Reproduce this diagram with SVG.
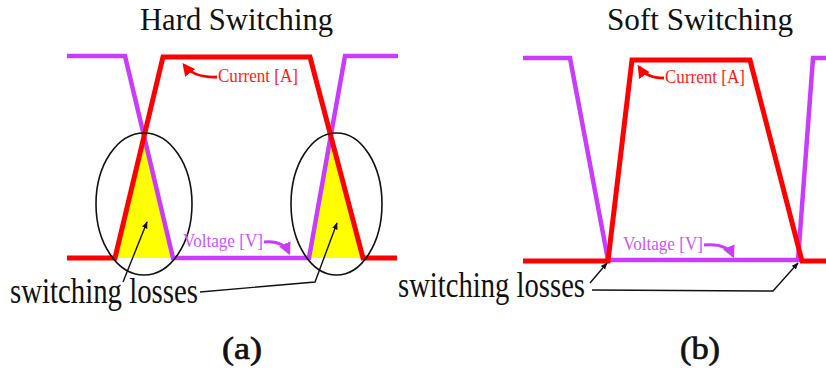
<svg xmlns="http://www.w3.org/2000/svg" width="826" height="370" viewBox="0 0 826 370">
<style>
text{font-family:"Liberation Serif","Times New Roman",Times,serif}
.red{fill:none;stroke:#ff0000;stroke-width:5;stroke-linejoin:miter}
.pur{fill:none;stroke:#c93cff;stroke-width:4.5;stroke-linejoin:miter}
.ell{fill:none;stroke:#111;stroke-width:1.6}
.blk{fill:none;stroke:#111;stroke-width:1.4}
.ra{fill:none;stroke:#ff0000;stroke-width:2.8}
.pa{fill:none;stroke:#c93cff;stroke-width:2.8}
.yel{fill:#ffff00}
.lab{stroke:#111;stroke-width:0.7}
</style>
<defs>
<marker id="mr" viewBox="0 0 10 10" refX="8" refY="5" markerWidth="4.5" markerHeight="4.5" orient="auto" markerUnits="strokeWidth"><path d="M0,0 L10,5 L0,10 z" fill="#ff0000"/></marker>
<marker id="mp" viewBox="0 0 10 10" refX="8" refY="5" markerWidth="4.5" markerHeight="4.5" orient="auto" markerUnits="strokeWidth"><path d="M0,0 L10,5 L0,10 z" fill="#c93cff"/></marker>
<marker id="mb" viewBox="0 0 10 10" refX="9" refY="5" markerWidth="5" markerHeight="5" orient="auto" markerUnits="strokeWidth"><path d="M0,1 L10,5 L0,9 z" fill="#111"/></marker>
</defs>
<rect width="826" height="370" fill="#fff"/>

<g id="panel-a">
  <text font-family="Liberation Serif, serif" x="140" y="30" font-size="30.5" fill="#111" textLength="193" lengthAdjust="spacingAndGlyphs">Hard Switching</text>
  <g id="loss-a">
    <polygon class="yel" points="144,137 116,258 172,258"/>
    <polygon class="yel" points="330,135 310,258 362,258"/>
  </g>
  <g id="voltage-a"><polyline class="pur" points="67,56 125,56 173,258 309,258 345,56 398,56"/></g>
  <g id="current-a"><polyline class="red" points="67,258 115,258 163,57 310,57 363,258 397,258"/></g>
  <g id="ellipses-a">
    <ellipse class="ell" cx="144" cy="204" rx="48" ry="71"/>
    <ellipse class="ell" cx="336.5" cy="204" rx="45.5" ry="71"/>
  </g>
  <g id="label-current-a">
    <text font-family="Liberation Serif, serif" fill="#ff1a1a" transform="translate(218,82) scale(1,1.12)" font-size="17" textLength="80" lengthAdjust="spacingAndGlyphs">Current [A]</text>
  </g>
  <g id="label-voltage-a">
    <text font-family="Liberation Serif, serif" fill="#cc55ff" transform="translate(183,247) scale(1,1.12)" font-size="17" textLength="80" lengthAdjust="spacingAndGlyphs">Voltage [V]</text>
  </g>
  <g id="label-losses-a">
    <text font-family="Liberation Serif, serif" fill="#111" transform="translate(10,303) scale(1,1.25)" font-size="29" textLength="188" lengthAdjust="spacingAndGlyphs">switching losses</text>
  </g>
  <text class="lab" font-family="Liberation Serif, serif" x="222" y="359" font-size="32" fill="#111" textLength="40" lengthAdjust="spacingAndGlyphs">(a)</text>
</g>

<g id="panel-b">
  <text font-family="Liberation Serif, serif" x="607" y="30" font-size="30.5" fill="#111" textLength="186" lengthAdjust="spacingAndGlyphs">Soft Switching</text>
  <g id="voltage-b"><polyline class="pur" points="523,58 570,58 608,260 798,260 813,58 826,58"/></g>
  <g id="current-b"><polyline class="red" points="523,261 608,261 632,60 750,60 802,261 826,261"/></g>
  <g id="label-current-b">
    <text font-family="Liberation Serif, serif" fill="#ff1a1a" transform="translate(665,83) scale(1,1.12)" font-size="17" textLength="80" lengthAdjust="spacingAndGlyphs">Current [A]</text>
  </g>
  <g id="label-voltage-b">
    <text font-family="Liberation Serif, serif" fill="#cc55ff" transform="translate(623,250) scale(1,1.12)" font-size="17" textLength="80" lengthAdjust="spacingAndGlyphs">Voltage [V]</text>
  </g>
  <g id="label-losses-b">
    <text font-family="Liberation Serif, serif" fill="#111" transform="translate(398,297) scale(1,1.25)" font-size="29" textLength="187" lengthAdjust="spacingAndGlyphs">switching losses</text>
  </g>
  <text class="lab" font-family="Liberation Serif, serif" x="680" y="359" font-size="32" fill="#111" textLength="40" lengthAdjust="spacingAndGlyphs">(b)</text>
</g>

<g id="connectors">
  <path class="ra" d="M217,77 Q194,78 184,65" marker-end="url(#mr)"/>
  <path class="pa" d="M264,242 Q283,240 289,253" marker-end="url(#mp)"/>
  <path class="blk" d="M123,282 L147,222" marker-end="url(#mb)"/>
  <path class="blk" d="M200,292 L315,282 L337,223" marker-end="url(#mb)"/>
  <path class="ra" d="M664,78 Q646,78 639,67" marker-end="url(#mr)"/>
  <path class="pa" d="M704,245 Q727,243 733,256" marker-end="url(#mp)"/>
  <path class="blk" d="M590,283 L607,263" marker-end="url(#mb)"/>
  <path class="blk" d="M592,290 L773,291 L798,263" marker-end="url(#mb)"/>
</g>
</svg>
